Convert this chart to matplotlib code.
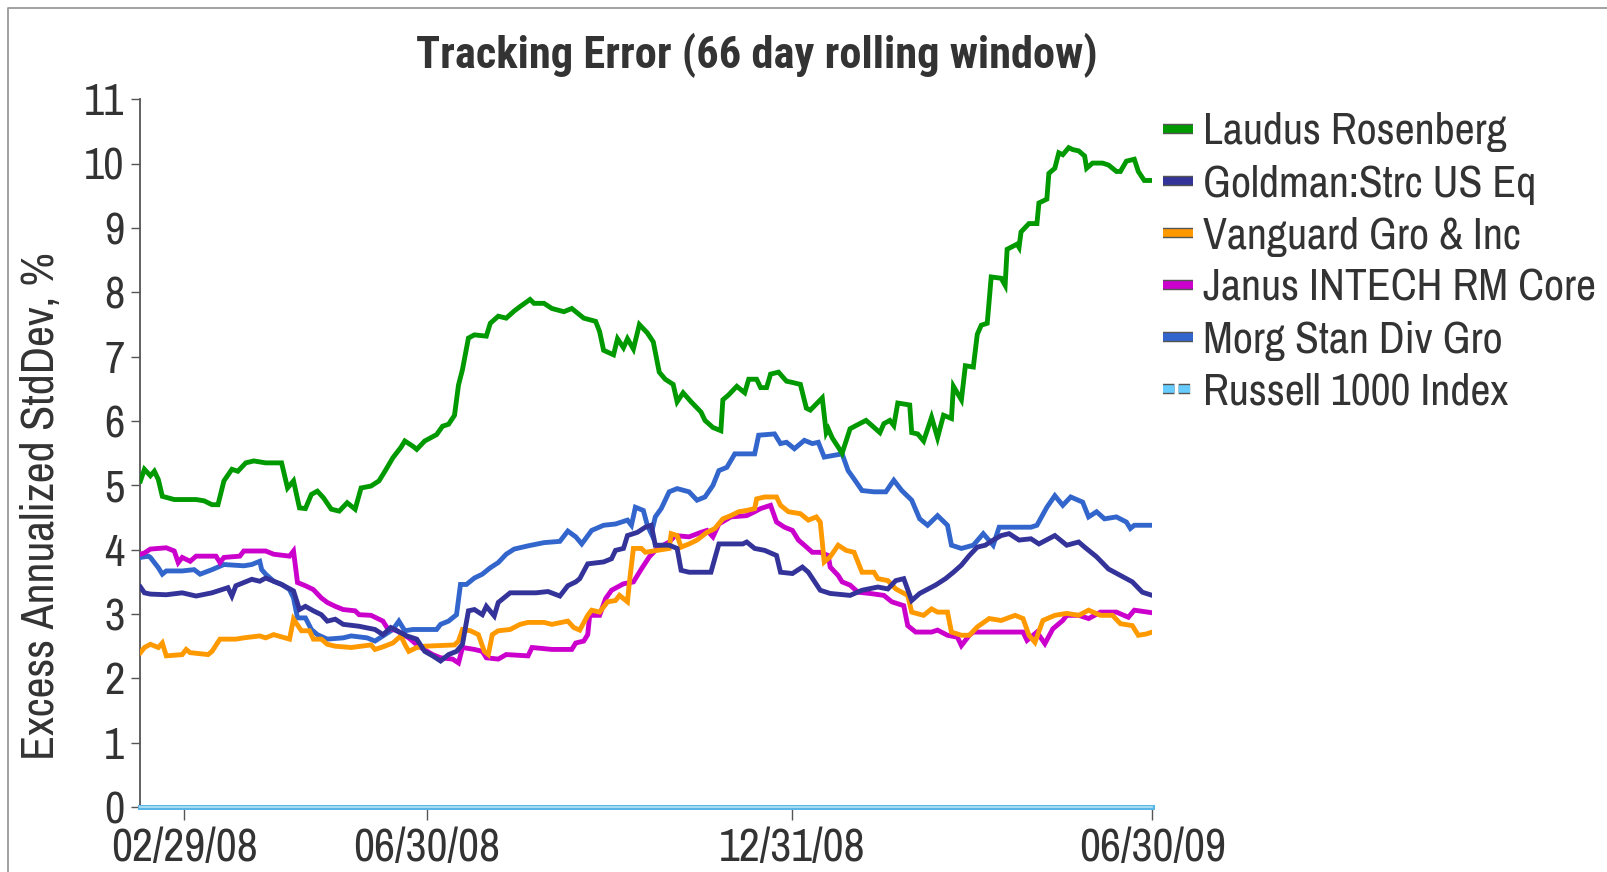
import numpy as np
import pandas as pd
import matplotlib
matplotlib.use('Agg')
import matplotlib.pyplot as plt
import matplotlib.dates as mdates
import matplotlib.patheffects as pe
from matplotlib.lines import Line2D

# narrow grotesque first, plain sans as fallback
plt.rcParams['font.family'] = ['Archivo Narrow', 'Roboto Condensed', 'Liberation Sans', 'DejaVu Sans']
plt.rcParams['font.size'] = 32
TITLE_FONT = ['Roboto Condensed', 'Liberation Sans', 'DejaVu Sans']
TXT = '#333333'

# x values are calendar days since START (first point of the rolling window)
START = '2008-02-07'
END = '2009-06-30'
TICK_DATES = ['2008-02-29', '2008-06-30', '2008-12-31', '2009-06-30']

laudus_day = [0, 2, 5, 7, 9, 11, 17, 28, 32, 36, 39, 42, 46, 49, 53, 57, 63, 71, 74, 77,
              80, 83, 86, 89, 92, 96, 100, 104, 108, 111, 116, 120, 123, 127, 131, 133, 137, 139, 143, 149,
              152, 155, 158, 160, 162, 165, 168, 174, 176, 180, 184, 188, 191, 196, 198, 203, 207, 213, 217, 223,
              229, 231, 233, 238, 240, 243, 245, 248, 251, 255, 258, 261, 264, 268, 270, 273, 277, 282, 284, 288,
              292, 293, 296, 300, 304, 306, 310, 312, 315, 317, 321, 325, 328, 332, 335, 337, 343, 345, 346, 348,
              353, 357, 360, 365, 368, 372, 374, 377, 379, 381, 387, 388, 391, 394, 398, 401, 404, 408, 409, 413,
              415, 419, 421, 423, 426, 428, 433, 435, 436, 441, 442, 443, 447, 451, 452, 456, 457, 460, 462, 464,
              467, 469, 472, 475, 476, 479, 484, 487, 491, 493, 496, 500, 502, 505, 509]
laudus_val = [5.07, 5.25, 5.15, 5.22, 5.09, 4.83, 4.78, 4.78, 4.76, 4.70, 4.70, 5.07, 5.25, 5.22, 5.35, 5.38, 5.35, 5.35, 4.96, 5.07,
              4.65, 4.64, 4.86, 4.91, 4.81, 4.63, 4.60, 4.73, 4.63, 4.96, 4.99, 5.07, 5.22, 5.43, 5.59, 5.69, 5.61, 5.56, 5.69, 5.79,
              5.92, 5.95, 6.09, 6.56, 6.80, 7.29, 7.34, 7.32, 7.52, 7.63, 7.60, 7.71, 7.78, 7.89, 7.83, 7.83, 7.75, 7.70, 7.75, 7.60,
              7.55, 7.39, 7.10, 7.03, 7.28, 7.14, 7.28, 7.12, 7.50, 7.37, 7.23, 6.76, 6.65, 6.57, 6.30, 6.44, 6.30, 6.14, 6.01, 5.90,
              5.85, 6.33, 6.41, 6.54, 6.44, 6.65, 6.65, 6.52, 6.52, 6.73, 6.76, 6.62, 6.60, 6.57, 6.20, 6.17, 6.36, 5.82, 5.88, 5.74,
              5.50, 5.88, 5.93, 6.01, 5.93, 5.82, 5.96, 6.01, 5.93, 6.28, 6.25, 5.82, 5.80, 5.69, 6.06, 5.74, 6.09, 6.04, 6.54, 6.33,
              6.86, 6.84, 7.35, 7.49, 7.52, 8.24, 8.22, 8.11, 8.67, 8.75, 8.70, 8.94, 9.07, 9.07, 9.39, 9.45, 9.85, 9.93, 10.17, 10.14,
              10.25, 10.22, 10.20, 10.12, 9.93, 10.01, 10.01, 9.98, 9.88, 9.88, 10.04, 10.07, 9.88, 9.74, 9.74]

goldman_day = [0, 2, 5, 13, 21, 28, 36, 44, 46, 48, 56, 60, 63, 71, 77, 80, 83, 87, 91, 94,
               98, 102, 110, 118, 122, 126, 134, 139, 143, 147, 151, 155, 159, 162, 165, 168, 172, 174, 178, 180,
               186, 199, 205, 211, 215, 219, 221, 225, 233, 237, 239, 243, 245, 250, 254, 257, 259, 266, 270, 272,
               276, 287, 291, 303, 305, 309, 314, 320, 322, 328, 333, 336, 342, 347, 357, 363, 371, 376, 380, 384,
               388, 392, 400, 405, 409, 413, 417, 421, 425, 429, 433, 437, 442, 448, 452, 460, 466, 472, 475, 481,
               487, 493, 499, 504, 509]
goldman_val = [3.42, 3.33, 3.31, 3.30, 3.33, 3.28, 3.33, 3.41, 3.28, 3.44, 3.54, 3.51, 3.56, 3.46, 3.36, 3.07, 3.12, 3.05, 2.99, 2.89,
               2.92, 2.84, 2.81, 2.76, 2.68, 2.79, 2.66, 2.61, 2.42, 2.35, 2.27, 2.37, 2.42, 2.53, 3.05, 3.07, 2.99, 3.12, 2.97, 3.18,
               3.33, 3.33, 3.35, 3.28, 3.44, 3.50, 3.55, 3.78, 3.81, 3.86, 3.99, 4.02, 4.22, 4.27, 4.35, 4.38, 4.07, 4.07, 4.02, 3.68,
               3.65, 3.65, 4.09, 4.09, 4.12, 4.02, 3.99, 3.91, 3.65, 3.63, 3.73, 3.65, 3.37, 3.32, 3.29, 3.37, 3.42, 3.39, 3.52, 3.55,
               3.21, 3.32, 3.45, 3.55, 3.65, 3.76, 3.91, 4.04, 4.07, 4.15, 4.22, 4.25, 4.15, 4.17, 4.09, 4.22, 4.07, 4.12, 4.04, 3.89,
               3.70, 3.60, 3.50, 3.34, 3.29]

vanguard_day = [0, 2, 5, 9, 11, 13, 21, 23, 25, 34, 36, 40, 48, 52, 60, 63, 67, 75, 77, 81,
                85, 87, 91, 94, 98, 106, 116, 118, 122, 127, 131, 133, 135, 139, 143, 158, 160, 162, 166, 170,
                173, 175, 177, 180, 186, 191, 195, 203, 207, 215, 218, 221, 225, 227, 231, 235, 239, 241, 245, 246,
                248, 252, 254, 260, 266, 267, 270, 272, 276, 280, 285, 289, 293, 297, 301, 305, 309, 310, 314, 320,
                322, 326, 332, 336, 340, 342, 344, 347, 351, 355, 359, 363, 369, 371, 376, 380, 383, 386, 388, 394,
                398, 401, 406, 408, 413, 417, 421, 427, 433, 440, 444, 447, 450, 454, 460, 466, 472, 477, 483, 489,
                493, 499, 502, 506, 509]
vanguard_val = [2.40, 2.48, 2.53, 2.48, 2.55, 2.35, 2.37, 2.45, 2.40, 2.37, 2.42, 2.61, 2.61, 2.63, 2.66, 2.63, 2.68, 2.61, 2.92, 2.74,
                2.74, 2.61, 2.61, 2.53, 2.50, 2.48, 2.52, 2.45, 2.49, 2.55, 2.66, 2.53, 2.42, 2.48, 2.50, 2.52, 2.58, 2.76, 2.74, 2.68,
                2.42, 2.37, 2.68, 2.74, 2.76, 2.84, 2.87, 2.87, 2.84, 2.89, 2.79, 2.75, 2.98, 3.06, 3.03, 3.19, 3.21, 3.29, 3.19, 3.50,
                4.02, 4.02, 3.96, 3.99, 4.02, 4.25, 4.22, 4.04, 4.09, 4.15, 4.27, 4.33, 4.48, 4.53, 4.59, 4.61, 4.64, 4.79, 4.82, 4.82,
                4.69, 4.59, 4.56, 4.46, 4.51, 4.43, 3.81, 3.89, 4.07, 3.99, 3.96, 3.65, 3.65, 3.55, 3.52, 3.39, 3.34, 3.29, 3.03, 2.98,
                3.08, 3.03, 3.03, 2.72, 2.67, 2.67, 2.80, 2.93, 2.90, 2.98, 2.93, 2.67, 2.56, 2.90, 2.98, 3.01, 2.98, 3.06, 2.98, 2.98,
                2.85, 2.82, 2.67, 2.69, 2.72]

janus_day = [0, 2, 5, 13, 17, 19, 21, 25, 28, 38, 40, 42, 50, 52, 63, 67, 75, 77, 79, 83,
             87, 91, 94, 98, 102, 108, 110, 116, 122, 124, 129, 135, 138, 141, 147, 151, 157, 160, 162, 168,
             172, 174, 180, 184, 195, 197, 207, 217, 219, 223, 225, 226, 231, 234, 237, 243, 248, 252, 256, 260,
             266, 269, 276, 282, 285, 288, 291, 297, 305, 309, 312, 317, 320, 324, 328, 331, 334, 338, 342, 346,
             347, 351, 353, 357, 361, 367, 374, 378, 384, 386, 390, 398, 401, 406, 411, 413, 417, 419, 433, 444,
             446, 451, 455, 459, 464, 466, 472, 477, 483, 491, 497, 500, 509]
janus_val = [3.93, 3.95, 4.01, 4.03, 3.98, 3.80, 3.88, 3.82, 3.90, 3.90, 3.80, 3.88, 3.90, 3.98, 3.98, 3.93, 3.90, 3.98, 3.49, 3.44,
             3.38, 3.25, 3.18, 3.12, 3.07, 3.05, 2.99, 2.98, 2.89, 2.79, 2.74, 2.63, 2.55, 2.48, 2.37, 2.32, 2.30, 2.24, 2.48, 2.45,
             2.42, 2.32, 2.30, 2.37, 2.35, 2.48, 2.45, 2.45, 2.55, 2.58, 2.68, 2.98, 2.98, 3.24, 3.37, 3.47, 3.50, 3.70, 3.89, 4.02,
             4.12, 4.22, 4.20, 4.27, 4.30, 4.20, 4.40, 4.51, 4.53, 4.59, 4.64, 4.69, 4.43, 4.35, 4.30, 4.15, 4.07, 3.96, 3.96, 3.91,
             3.73, 3.60, 3.50, 3.45, 3.34, 3.32, 3.29, 3.19, 3.13, 2.82, 2.72, 2.72, 2.75, 2.67, 2.64, 2.51, 2.67, 2.72, 2.72, 2.72,
             2.59, 2.72, 2.54, 2.77, 2.90, 2.98, 2.98, 2.93, 3.03, 3.03, 2.95, 3.06, 3.02]

morgan_day = [0, 4, 5, 9, 11, 13, 21, 27, 30, 36, 42, 52, 56, 60, 61, 63, 67, 71, 75, 77,
              79, 83, 86, 89, 94, 102, 106, 114, 118, 122, 127, 130, 133, 137, 149, 151, 155, 159, 161, 164,
              168, 172, 176, 180, 184, 188, 195, 203, 211, 215, 219, 222, 227, 233, 239, 245, 247, 249, 253, 255,
              257, 259, 262, 266, 270, 276, 280, 284, 288, 291, 295, 299, 309, 311, 319, 322, 325, 329, 334, 338,
              341, 344, 353, 356, 359, 363, 369, 375, 379, 383, 388, 392, 396, 401, 406, 408, 413, 419, 424, 429,
              432, 448, 451, 456, 460, 464, 468, 474, 477, 481, 485, 491, 496, 498, 500, 509]
morgan_val = [3.88, 3.90, 3.88, 3.72, 3.62, 3.67, 3.67, 3.69, 3.62, 3.69, 3.77, 3.75, 3.77, 3.82, 3.69, 3.62, 3.51, 3.46, 3.38, 3.25,
              2.94, 2.94, 2.76, 2.68, 2.61, 2.63, 2.66, 2.63, 2.58, 2.66, 2.76, 2.89, 2.74, 2.76, 2.76, 2.84, 2.89, 2.99, 3.46, 3.46,
              3.56, 3.62, 3.72, 3.80, 3.93, 4.01, 4.06, 4.11, 4.13, 4.29, 4.20, 4.09, 4.30, 4.38, 4.40, 4.46, 4.38, 4.66, 4.61, 4.38,
              4.25, 4.51, 4.64, 4.90, 4.95, 4.90, 4.77, 4.82, 5.00, 5.23, 5.28, 5.49, 5.49, 5.78, 5.80, 5.65, 5.67, 5.57, 5.70, 5.65,
              5.67, 5.44, 5.49, 5.23, 5.10, 4.92, 4.90, 4.90, 5.08, 4.92, 4.77, 4.48, 4.38, 4.53, 4.38, 4.07, 4.02, 4.07, 4.25, 4.07,
              4.35, 4.35, 4.38, 4.66, 4.84, 4.69, 4.82, 4.74, 4.51, 4.59, 4.48, 4.51, 4.43, 4.33, 4.38, 4.38]

russell_day = [0, 509]
russell_val = [0.0, 0.0]

SERIES = [
    ('Laudus Rosenberg', laudus_day, laudus_val, '#009900'),
    ('Goldman:Strc US Eq', goldman_day, goldman_val, '#333399'),
    ('Vanguard Gro & Inc', vanguard_day, vanguard_val, '#FF9900'),
    ('Janus INTECH RM Core', janus_day, janus_val, '#CC00CC'),
    ('Morg Stan Div Gro', morgan_day, morgan_val, '#3366CC'),
]
RUSSELL_LABEL = 'Russell 1000 Index'
C_RUSSELL = '#66CCFF'

start = pd.Timestamp(START)

fig = plt.figure(figsize=(16.07, 8.72), dpi=100)
ax = fig.add_axes([0.0874, 0.0745, 0.717 - 0.0874, 0.886 - 0.0745])

# draw in reverse so the first series sits on top
for label, d, v, c in reversed(SERIES):
    x = start + pd.to_timedelta(np.asarray(d, dtype=float), unit='D')
    ax.plot(x, v, color=c, lw=3.5, solid_joinstyle='miter', zorder=3)

xr = start + pd.to_timedelta(np.asarray(russell_day, dtype=float), unit='D')
ax.plot(xr, russell_val, color='#B5E3F7', lw=1.2, clip_on=False, zorder=4,
        path_effects=[pe.Stroke(linewidth=3.6, foreground='#5AB6E4'), pe.Normal()])

ax.set_xlim(start, pd.Timestamp(END))
ax.set_ylim(0, 11)
ax.set_yticks(range(0, 12))
ax.set_xticks(pd.to_datetime(TICK_DATES))
ax.xaxis.set_major_formatter(mdates.DateFormatter('%m/%d/%y'))

for s in ['top', 'right']:
    ax.spines[s].set_visible(False)
ax.spines['left'].set_color('#555555')
ax.spines['left'].set_linewidth(1.3)
ax.spines['bottom'].set_color('#555555')
ax.spines['bottom'].set_linewidth(1.0)
ax.tick_params(axis='y', length=6.5, width=1.0, color='#555555', pad=5, labelcolor=TXT, labelsize=32)
ax.tick_params(axis='x', length=9.5, width=1.0, color='#555555', pad=5, labelcolor=TXT, labelsize=33)

ax.set_ylabel('Excess Annualized StdDev, %', color=TXT, fontsize=33)
ax.yaxis.set_label_coords(-0.078, 0.425)
fig.text(0.471, 0.936, 'Tracking Error (66 day rolling window)', ha='center', va='center',
         fontsize=32, fontweight='bold', color=TXT, family=TITLE_FONT)

# legend with outlined bar swatches
outline = [pe.Stroke(linewidth=7.5, foreground='#555555'), pe.Normal()]
handles = [Line2D([], [], color=c, lw=5.5, solid_capstyle='butt', path_effects=outline)
           for _, _, _, c in SERIES]
handles.append(Line2D([], [], color=C_RUSSELL, lw=5.5, dash_capstyle='butt',
                      linestyle=(0, (1.5, 0.55)), path_effects=outline))
labels = [s[0] for s in SERIES] + [RUSSELL_LABEL]
fig.legend(handles, labels, loc='upper left', bbox_to_anchor=(0.7235, 0.871),
           frameon=False, fontsize=31.5, handlelength=0.7, handletextpad=0.22,
           labelspacing=0.275, borderpad=0, borderaxespad=0, labelcolor=TXT)

# thin frame round the picture (top and left edges visible)
fig.add_artist(Line2D([0.0052, 0.0052, 1.0], [0.0, 0.9905, 0.9905],
                      transform=fig.transFigure, color='#9a9a9a', lw=1.3))

fig.savefig('out.png', dpi=100)
